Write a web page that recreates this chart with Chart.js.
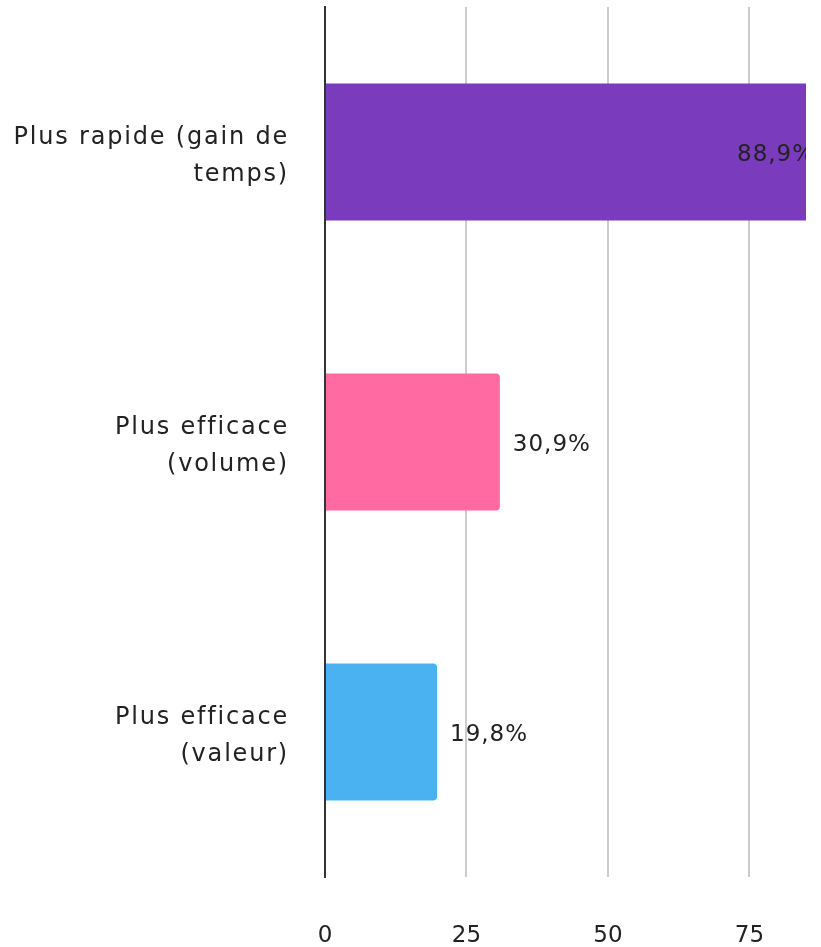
<!DOCTYPE html>
<html>
<head>
<meta charset="utf-8">
<script src="https://cdn.jsdelivr.net/npm/chart.js@4/dist/chart.umd.min.js"></script>
<style>
  html, body { margin: 0; padding: 0; background: #fff; }
  #wrap { width: 821px; height: 947px; }
</style>
</head>
<body>
<div id="wrap"><canvas id="bar-chart"></canvas></div>
<script>
const categories = [
  ['Plus rapide (gain de', 'temps)'],
  ['Plus efficace', '(volume)'],
  ['Plus efficace', '(valeur)']
];
const values = [88.9, 30.9, 19.8];
const barColors = ['#7a3bbd', '#ff6aa3', '#4ab2f1'];
const xTicks = [0, 25, 50, 75];

const FONT = 'DejaVu Sans';

// percent labels next to each bar, written inside when they would run off the area
const valueLabels = {
  id: 'valueLabels',
  afterDatasetsDraw(chart) {
    const { ctx, chartArea } = chart;
    const meta = chart.getDatasetMeta(0);
    ctx.save();
    ctx.beginPath();
    ctx.rect(chartArea.left, chartArea.top, chartArea.right - chartArea.left, chartArea.bottom - chartArea.top);
    ctx.clip();
    ctx.font = '23px "' + FONT + '"';
    ctx.letterSpacing = '1px';
    ctx.fillStyle = '#222';
    ctx.textBaseline = 'middle';
    ctx.textAlign = 'left';
    meta.data.forEach((bar, i) => {
      const txt = values[i].toFixed(1).replace('.', ',') + '%';
      const w = ctx.measureText(txt).width;
      let x = bar.x + 13;
      if (x + w > chartArea.right) {
        x = bar.x - 13 - w;
      }
      ctx.fillText(txt, x, bar.y + 3);
    });
    ctx.restore();
  }
};

// wider tracking on the category labels, nudged a little lower
const spacedLabels = {
  id: 'spacedLabels',
  afterUpdate(chart) {
    const y = chart.scales.y;
    if (y._spaced) return;
    const orig = y.drawLabels;
    y.drawLabels = function (area) {
      this.ctx.save();
      this.ctx.letterSpacing = '1.8px';
      this.ctx.translate(0, 4);
      orig.call(this, area);
      this.ctx.restore();
    };
    y._spaced = true;
  }
};

new Chart(document.getElementById('bar-chart'), {
  type: 'bar',
  data: {
    labels: categories,
    datasets: [{
      data: values,
      backgroundColor: barColors,
      borderRadius: 4,
      borderSkipped: 'start',
      categoryPercentage: 0.525,
      barPercentage: 0.9
    }]
  },
  options: {
    indexAxis: 'y',
    responsive: true,
    maintainAspectRatio: false,
    animation: false,
    layout: { padding: { top: 7, right: 15, left: 0, bottom: 0 } },
    plugins: {
      legend: { display: false },
      tooltip: { enabled: false }
    },
    scales: {
      x: {
        min: 0,
        max: 85,
        afterBuildTicks: (axis) => {
          axis.ticks = axis.ticks.filter(t => xTicks.includes(t.value));
        },
        afterFit: (scale) => { scale.height = 70; },
        ticks: {
          stepSize: 25,
          padding: 45,
          color: '#222',
          font: { family: FONT, size: 23 }
        },
        grid: { color: '#cccccc', lineWidth: 2, drawTicks: false },
        border: { display: false }
      },
      y: {
        afterFit: (scale) => {
          scale.width = 325;
          scale.paddingTop = 0;
          scale.paddingBottom = 0;
        },
        ticks: {
          padding: 36,
          color: '#222',
          font: { family: FONT, size: 24, lineHeight: 1.55 }
        },
        grid: { display: false, drawTicks: false },
        border: { display: true, color: '#333', width: 2 }
      }
    }
  },
  plugins: [valueLabels, spacedLabels]
});
</script>
</body>
</html>
